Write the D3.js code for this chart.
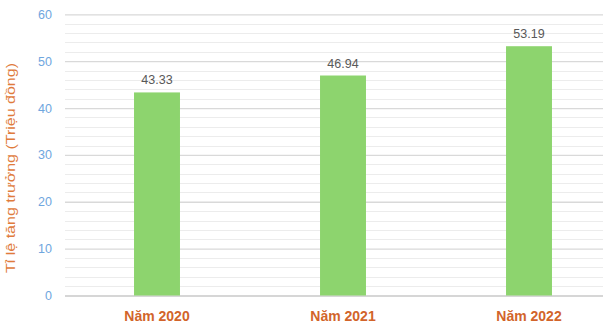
<!DOCTYPE html>
<html><head><meta charset="utf-8">
<script src="https://cdn.jsdelivr.net/npm/d3@7"></script>
<style>body{margin:0;background:#fff}svg{display:block}text{font-family:"Liberation Sans",Arial,sans-serif}</style>
</head><body>
<svg id="c" width="605" height="326"></svg>
<script>
const categories = ["Năm 2020", "Năm 2021", "Năm 2022"];
const values = [43.33, 46.94, 53.19];
const valueLabels = ["43.33", "46.94", "53.19"];
const yTicks = [0, 10, 20, 30, 40, 50, 60];
const yTitle = "Tỉ lệ tăng trưởng (Triệu đồng)";

const svg = d3.select("#c");
const y = d3.scaleLinear().domain([0, 60]).range([295.5, 14.3]);
const x = d3.scaleBand().domain(categories).range([64, 622]).paddingInner(0.753).paddingOuter(0.3765);
const gx0 = 65, gx1 = 603;

// minor gridlines
const minor = d3.range(0, 61, 2).filter(v => v % 10 !== 0);
svg.append("g").selectAll("line").data(minor).join("line")
  .attr("x1", gx0).attr("x2", gx1).attr("y1", d => Math.round(y(d)) + 0.5).attr("y2", d => Math.round(y(d)) + 0.5)
  .attr("stroke", "#ececec").attr("stroke-width", 1);

// major gridlines via axis
const yAxis = svg.append("g").attr("transform", `translate(${gx0},0)`)
  .call(d3.axisLeft(y).tickValues(yTicks).tickSize(-(gx1 - gx0)).tickPadding(13).tickFormat(d3.format("d")));
yAxis.select(".domain").remove();
yAxis.selectAll(".tick line").attr("stroke", d => d === 0 ? "#c8c8c8" : "#d9d9d9").attr("stroke-width", 1.3);
yAxis.selectAll(".tick text").attr("fill", "#6fa6de").attr("font-size", 12.5);

// bars
svg.append("g").selectAll("rect").data(values).join("rect")
  .attr("x", (d, i) => x(categories[i])).attr("width", x.bandwidth())
  .attr("y", d => y(d)).attr("height", d => y(0) - y(d))
  .attr("fill", "#8dd46e");

// value labels
svg.append("g").selectAll("text").data(values).join("text")
  .attr("x", (d, i) => x(categories[i]) + x.bandwidth() / 2)
  .attr("y", d => y(d) - 8)
  .attr("text-anchor", "middle").attr("fill", "#595959").attr("font-size", 12.5)
  .text((d, i) => valueLabels[i]);

// x axis labels
const xAxis = svg.append("g").attr("transform", `translate(0,${y(0)})`)
  .call(d3.axisBottom(x).tickSize(0).tickPadding(16));
xAxis.select(".domain").remove();
xAxis.selectAll(".tick text").attr("fill", "#d2642a").attr("font-size", 14).attr("font-weight", "bold");

// y title
svg.append("text").attr("transform", "translate(14.5,168) rotate(-90)")
  .attr("text-anchor", "middle").attr("fill", "#e07b3c").attr("font-size", 13)
  .attr("textLength", 210).attr("lengthAdjust", "spacingAndGlyphs")
  .text(yTitle);
</script>
</body></html>
